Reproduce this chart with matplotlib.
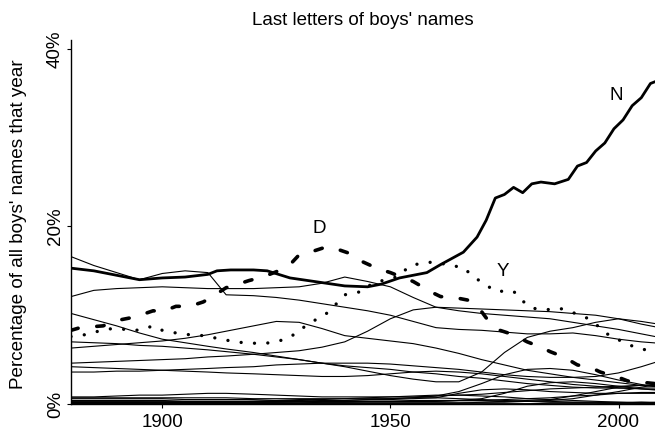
import matplotlib
matplotlib.use("Agg")
import matplotlib.pyplot as plt

plt.rcParams['font.family'] = ['Liberation Sans', 'DejaVu Sans']

title = "Last letters of boys' names"
ylabel = "Percentage of all boys' names that year"
xticks = [1900, 1950, 2000]
yticks = [0, 20, 40]

# ---- highlighted letters (percent) ----
n_years = [1880, 1885, 1890, 1895, 1900, 1905, 1910, 1912, 1915, 1920, 1923, 1928, 1932, 1936,
           1940, 1945, 1948, 1952, 1958, 1961, 1966, 1969, 1971, 1973, 1975, 1977, 1979, 1981,
           1983, 1986, 1989, 1991, 1993, 1995, 1997, 1999, 2001, 2003, 2005, 2007, 2008, 2010]
n_vals = [15.3, 15.0, 14.5, 14.0, 14.2, 14.3, 14.6, 15.0, 15.1, 15.1, 15.0, 14.2, 13.9, 13.6,
          13.3, 13.2, 13.5, 14.2, 14.8, 15.7, 17.1, 18.8, 20.7, 23.2, 23.6, 24.4, 23.8, 24.8,
          25.0, 24.8, 25.3, 26.8, 27.2, 28.5, 29.4, 31.0, 32.0, 33.6, 34.5, 36.1, 36.3, 36.8]

d_years = [1880, 1882, 1887, 1891, 1894, 1898, 1900, 1903, 1906, 1909, 1911, 1914, 1916, 1919,
           1922, 1925, 1928, 1930, 1933, 1936, 1938, 1942, 1944, 1947, 1950, 1953, 1955, 1959,
           1961, 1964, 1967, 1970, 1971, 1974, 1977, 1980, 1983, 1985, 1988, 1991, 1994, 1996,
           2000, 2002, 2006, 2010]
d_vals = [8.3, 8.6, 8.8, 9.5, 9.8, 10.5, 10.4, 11.0, 11.0, 11.5, 12.1, 13.1, 13.4, 13.9,
          14.3, 14.9, 15.7, 16.8, 17.2, 17.7, 17.5, 16.8, 16.0, 15.3, 14.8, 14.2, 13.8, 12.6,
          12.1, 12.0, 11.7, 10.4, 9.7, 8.3, 7.8, 7.0, 6.4, 5.9, 5.3, 4.4, 4.1, 3.6,
          3.0, 2.6, 2.4, 2.2]

y_years = [1880, 1883, 1886, 1889, 1892, 1895, 1898, 1900, 1903, 1906, 1909, 1913, 1916, 1918,
           1922, 1925, 1928, 1930, 1933, 1936, 1938, 1940, 1944, 1946, 1952, 1954, 1957, 1960,
           1963, 1966, 1968, 1971, 1973, 1977, 1979, 1981, 1984, 1987, 1990, 1993, 1996, 1998,
           2001, 2004, 2007, 2010]
y_vals = [7.6, 7.8, 8.2, 8.5, 8.4, 8.3, 8.8, 8.3, 8.0, 7.8, 7.7, 7.3, 7.0, 6.9,
          6.8, 7.0, 7.5, 8.3, 9.3, 10.2, 11.2, 12.3, 12.7, 13.6, 14.4, 15.5, 15.9, 16.0,
          15.6, 15.4, 14.4, 13.4, 12.7, 12.7, 11.6, 10.8, 10.6, 10.8, 10.3, 9.7, 8.6, 7.7,
          7.0, 6.3, 6.0, 5.7]

# ---- other letters (percent) ----
years_other = [1880, 1885, 1890, 1895, 1900, 1905, 1910, 1914, 1920, 1925, 1930, 1935, 1940, 1945,
               1950, 1955, 1960, 1965, 1970, 1975, 1980, 1985, 1990, 1995, 2000, 2005, 2010]
letter_e = [16.6, 15.6, 14.8, 14.0, 14.7, 15.0, 14.8, 12.3, 12.2, 12.0, 11.7, 11.3, 10.9, 10.5,
            10.0, 9.3, 8.6, 8.4, 8.3, 8.1, 7.9, 7.9, 8.0, 7.7, 7.3, 7.0, 6.8]
letter_s = [12.1, 12.8, 13.0, 13.1, 13.2, 13.1, 13.0, 13.0, 13.0, 13.1, 13.2, 13.6, 14.3, 13.8,
            13.2, 12.0, 10.9, 10.5, 10.2, 10.0, 9.8, 9.6, 9.2, 8.8, 8.4, 7.9, 7.4]
letter_m = [10.2, 9.5, 8.8, 8.0, 7.3, 6.9, 6.5, 6.2, 5.8, 5.4, 5.0, 4.6, 4.3, 4.1,
            3.9, 3.6, 3.4, 3.1, 2.9, 2.6, 2.3, 2.1, 1.9, 1.8, 1.8, 1.8, 1.8]
letter_t = [6.3, 6.5, 6.7, 6.9, 7.1, 7.4, 7.8, 8.2, 8.8, 9.3, 9.2, 8.5, 7.7, 7.4,
            7.1, 6.8, 6.3, 5.7, 5.0, 4.4, 3.8, 3.4, 3.0, 2.7, 2.4, 2.1, 1.9]
letter_l = [4.6, 4.7, 4.8, 4.9, 5.0, 5.1, 5.3, 5.4, 5.6, 5.8, 6.0, 6.4, 7.0, 8.2,
            9.6, 10.6, 10.9, 10.8, 10.7, 10.6, 10.5, 10.4, 10.2, 10.0, 9.6, 9.0, 8.5]
letter_r = [7.0, 6.9, 6.8, 6.6, 6.5, 6.3, 6.1, 5.9, 5.6, 5.3, 5.0, 4.6, 4.2, 3.7,
            3.2, 2.8, 2.5, 2.5, 3.6, 5.8, 7.5, 8.2, 8.6, 9.2, 9.6, 9.3, 8.9]
letter_k = [4.2, 4.1, 4.0, 3.9, 3.8, 3.7, 3.6, 3.5, 3.4, 3.3, 3.2, 3.1, 3.1, 3.2,
            3.4, 3.6, 3.7, 3.6, 3.4, 3.1, 2.8, 2.5, 2.2, 2.0, 1.8, 1.7, 1.6]
letter_h = [3.6, 3.6, 3.7, 3.7, 3.8, 3.9, 4.0, 4.1, 4.2, 4.4, 4.5, 4.6, 4.6, 4.6,
            4.5, 4.3, 4.1, 3.9, 3.6, 3.3, 3.1, 3.0, 3.0, 3.1, 3.5, 4.2, 5.0]
letter_o = [0.8, 0.8, 0.9, 1.0, 1.0, 1.1, 1.2, 1.2, 1.1, 1.0, 0.9, 0.8, 0.8, 0.8,
            0.8, 0.8, 0.9, 1.0, 1.1, 1.3, 1.5, 1.7, 1.8, 1.9, 2.0, 2.1, 2.1]
letter_w = [0.7, 0.7, 0.7, 0.7, 0.7, 0.7, 0.7, 0.7, 0.6, 0.6, 0.6, 0.6, 0.6, 0.6,
            0.6, 0.7, 0.9, 1.4, 2.3, 3.3, 3.9, 4.0, 3.8, 3.3, 2.7, 2.2, 1.8]
letter_a = [0.6, 0.6, 0.6, 0.6, 0.6, 0.5, 0.5, 0.5, 0.5, 0.4, 0.4, 0.3, 0.3, 0.3,
            0.3, 0.3, 0.3, 0.4, 0.6, 1.2, 2.0, 2.4, 2.5, 2.3, 2.0, 1.7, 1.5]
letter_b = [0.2, 0.2, 0.2, 0.2, 0.2, 0.2, 0.2, 0.2, 0.2, 0.2, 0.2, 0.2, 0.2, 0.2,
            0.2, 0.2, 0.2, 0.2, 0.2, 0.3, 0.4, 0.5, 0.9, 1.4, 1.9, 2.1, 2.0]
letter_c = [0.3, 0.3, 0.3, 0.3, 0.3, 0.3, 0.3, 0.3, 0.3, 0.3, 0.3, 0.4, 0.4, 0.5,
            0.5, 0.6, 0.7, 1.2, 1.6, 1.7, 1.6, 1.4, 1.3, 1.2, 1.2, 1.2, 1.2]
letter_i = [0.2, 0.2, 0.2, 0.2, 0.1, 0.1, 0.1, 0.1, 0.1, 0.1, 0.1, 0.1, 0.1, 0.1,
            0.1, 0.1, 0.1, 0.1, 0.2, 0.2, 0.3, 0.4, 0.6, 1.0, 1.4, 1.9, 2.3]
letter_x = [0.4, 0.4, 0.4, 0.4, 0.4, 0.3, 0.3, 0.3, 0.3, 0.3, 0.3, 0.3, 0.3, 0.3,
            0.3, 0.3, 0.3, 0.4, 0.4, 0.5, 0.6, 0.7, 0.9, 1.0, 1.2, 1.3, 1.3]
letter_g = [0.1, 0.1, 0.1, 0.1, 0.1, 0.2, 0.2, 0.2, 0.3, 0.4, 0.5, 0.5, 0.6, 0.7,
            0.8, 0.9, 1.0, 1.0, 0.9, 0.8, 0.6, 0.5, 0.4, 0.3, 0.2, 0.2, 0.1]
letter_f = [0.1, 0.1, 0.1, 0.1, 0.1, 0.1, 0.1, 0.1, 0.1, 0.1, 0.1, 0.2, 0.2, 0.3,
            0.3, 0.4, 0.4, 0.4, 0.4, 0.3, 0.3, 0.2, 0.2, 0.2, 0.1, 0.1, 0.1]
letter_p = [0.2, 0.2, 0.2, 0.2, 0.2, 0.2, 0.2, 0.2, 0.2, 0.2, 0.3, 0.3, 0.4, 0.5,
            0.6, 0.7, 0.7, 0.6, 0.5, 0.4, 0.3, 0.3, 0.2, 0.2, 0.2, 0.1, 0.1]
letter_z = [0.0, 0.0, 0.0, 0.0, 0.0, 0.0, 0.0, 0.0, 0.0, 0.0, 0.0, 0.0, 0.0, 0.0,
            0.0, 0.0, 0.0, 0.0, 0.0, 0.0, 0.0, 0.1, 0.1, 0.1, 0.1, 0.2, 0.2]
letter_u = [0.0, 0.0, 0.0, 0.0, 0.0, 0.0, 0.0, 0.0, 0.0, 0.0, 0.0, 0.0, 0.0, 0.0,
            0.0, 0.0, 0.0, 0.0, 0.0, 0.0, 0.0, 0.0, 0.0, 0.0, 0.0, 0.0, 0.0]
letter_v = [0.0, 0.0, 0.0, 0.0, 0.0, 0.0, 0.0, 0.0, 0.0, 0.0, 0.0, 0.0, 0.0, 0.0,
            0.0, 0.0, 0.0, 0.0, 0.0, 0.0, 0.0, 0.0, 0.0, 0.0, 0.1, 0.1, 0.1]
letter_j = [0.0, 0.0, 0.0, 0.0, 0.0, 0.0, 0.0, 0.0, 0.0, 0.0, 0.0, 0.0, 0.0, 0.0,
            0.0, 0.0, 0.0, 0.0, 0.0, 0.0, 0.0, 0.0, 0.0, 0.0, 0.0, 0.0, 0.1]

others = [letter_e, letter_s, letter_m, letter_t, letter_l, letter_r, letter_k, letter_h,
          letter_o, letter_w, letter_a, letter_b, letter_c, letter_i, letter_x, letter_g,
          letter_f, letter_p, letter_z, letter_u, letter_v, letter_j]

labels = ["N", "D", "Y"]
label_pos = [(1999.4, 34.8), (1934.5, 19.8), (1974.6, 14.9)]

fig = plt.figure(figsize=(6.55, 4.32), dpi=100)
ax = fig.add_axes([71/655, 28/432, 584/655, 364/432])

for vals in others:
    ax.plot(years_other, vals, color='black', lw=0.8, solid_joinstyle='round')

ax.plot(n_years, n_vals, color='black', lw=2.0, solid_joinstyle='round', solid_capstyle='round')
ax.plot(d_years, d_vals, color='black', lw=2.6, linestyle=(0, (2.05, 5.2)), dash_capstyle='round')
ax.plot(y_years, y_vals, color='black', lw=2.4, linestyle=(0, (0.01, 4.0)), dash_capstyle='round')

for lab, (px, py) in zip(labels, label_pos):
    ax.text(px, py, lab, ha='center', va='center', fontsize=13.5)

ax.set_xlim(1880, 2008)
ax.set_ylim(0, 41)
ax.set_xticks(xticks)
ax.set_xticklabels([str(v) for v in xticks], fontsize=13.5)
ax.set_yticks(yticks)
ax.set_yticklabels([f"{v}%" for v in yticks], fontsize=13.5, rotation=90, va='center')
ax.tick_params(axis='x', direction='out', length=3, width=0.8, pad=4.3, colors='black')
ax.tick_params(axis='y', direction='out', length=3, width=0.8, pad=2, colors='black')
for side in ['top', 'right']:
    ax.spines[side].set_visible(False)
ax.spines['left'].set_linewidth(1.0)
ax.spines['bottom'].set_linewidth(1.0)
ax.set_ylabel(ylabel, fontsize=13.6)
ax.yaxis.set_label_coords(-0.0753, 0.495)
ax.set_title(title, fontsize=13.5, pad=11)

fig.savefig("out.png", dpi=100)
